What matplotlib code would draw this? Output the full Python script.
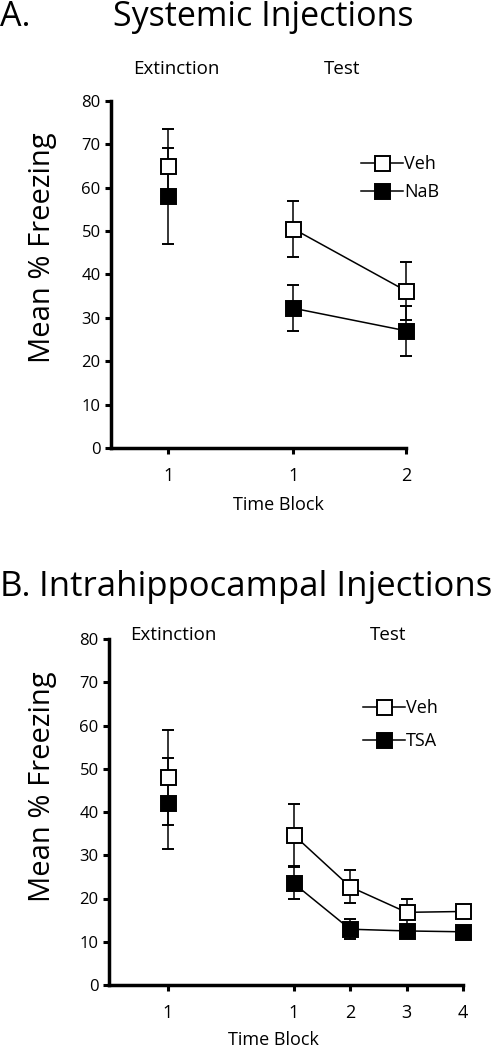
import matplotlib.pyplot as plt
from matplotlib.lines import Line2D

plt.rcParams['font.family'] = ['Open Sans', 'DejaVu Sans']

W, H = 501, 1050

# panel A: systemic injections
a_ext_veh, a_ext_veh_err = 65.0, 8.5
a_ext_nab, a_ext_nab_err = 58.0, 11.0
a_test_veh = [50.5, 36.2]
a_test_veh_err = [6.4, 6.7]
a_test_nab = [32.2, 27.0]
a_test_nab_err = [5.3, 5.8]
a_test_ticks = ['1', '2']

# panel B: intrahippocampal injections
b_ext_veh, b_ext_veh_err = 48.0, 11.0
b_ext_tsa, b_ext_tsa_err = 42.0, 10.5
b_test_veh = [34.7, 22.7, 16.8, 17.0]
b_test_veh_err = [7.1, 3.8, 3.0, 1.2]
b_test_tsa = [23.5, 12.9, 12.5, 12.3]
b_test_tsa_err = [3.7, 2.3, 1.0, 0.9]
b_test_ticks = ['1', '2', '3', '4']

yticks = [0, 10, 20, 30, 40, 50, 60, 70, 80]


def fx(x):
    return x / W


def fy(y):
    return 1 - y / H


def axes_px(fig, left, top, right, bottom):
    return fig.add_axes([fx(left), fy(bottom), (right - left) / W, (bottom - top) / H])


def series(ax, x_ext, ext, ext_err, x_test, test, test_err, filled, label):
    face = 'black' if filled else 'white'
    kw = dict(color='black', marker='s', markersize=10.8, markerfacecolor=face,
              markeredgecolor='black', markeredgewidth=1.4, ecolor='black',
              elinewidth=1.1, capsize=4.5, capthick=1.1, lw=1.1, clip_on=False)
    ax.errorbar([x_ext], [ext], yerr=[ext_err], linestyle='none', zorder=3 if filled else 4, **kw)
    ax.errorbar(x_test, test, yerr=test_err, zorder=3 if filled else 4, **kw)
    return Line2D([], [], color='black', lw=1.1, marker='s', markersize=10.8,
                  markerfacecolor=face, markeredgecolor='black', markeredgewidth=1.4,
                  label=label)


def style(ax, xlim, xticks, xlabels):
    ax.set_ylim(0, 80)
    ax.set_xlim(*xlim)
    ax.set_yticks(yticks)
    ax.set_xticks(xticks)
    ax.set_xticklabels(xlabels, fontsize=13)
    ax.tick_params(axis='y', labelsize=12, direction='out', length=4.5, width=2.2, pad=3)
    ax.tick_params(axis='x', direction='out', length=4.5, width=2.2, pad=9)
    for s in ['top', 'right']:
        ax.spines[s].set_visible(False)
    for s in ['left', 'bottom']:
        ax.spines[s].set_linewidth(2.5)


fig = plt.figure(figsize=(W / 100, H / 100), dpi=100)

# ---- A ----
axA = axes_px(fig, 111, 100.7, 406, 448)
ax_pos = [0.0, 1.107, 2.107]
hA1 = series(axA, ax_pos[0], a_ext_veh, a_ext_veh_err, ax_pos[1:], a_test_veh, a_test_veh_err, False, 'Veh')
hA2 = series(axA, ax_pos[0], a_ext_nab, a_ext_nab_err, ax_pos[1:], a_test_nab, a_test_nab_err, True, 'NaB')
style(axA, (-0.509, 2.107), ax_pos, ['1'] + a_test_ticks)
axA.legend(handles=[hA1, hA2], loc='upper left', bbox_to_anchor=(fx(352), fy(146)),
           bbox_transform=fig.transFigure, frameon=False, fontsize=13,
           handlelength=2.3, handletextpad=0.1, labelspacing=0.55, borderpad=0)

fig.text(fx(0), fy(17), 'A.', fontsize=24.5, va='center', ha='left')
fig.text(fx(113), fy(17), 'Systemic Injections', fontsize=24.5, va='center', ha='left')
fig.text(fx(176), fy(69), 'Extinction', fontsize=13.5, va='center', ha='center')
fig.text(fx(342), fy(69), 'Test', fontsize=13.5, va='center', ha='center')
fig.text(fx(43), fy(248), 'Mean % Freezing', fontsize=21, rotation=90, va='center', ha='center')
fig.text(fx(278), fy(505), 'Time Block', fontsize=13, va='center', ha='center')

# ---- B ----
axB = axes_px(fig, 109, 639, 463, 985)
bx_pos = [0.0, 2.23, 3.23, 4.23, 5.23]
hB1 = series(axB, bx_pos[0], b_ext_veh, b_ext_veh_err, bx_pos[1:], b_test_veh, b_test_veh_err, False, 'Veh')
hB2 = series(axB, bx_pos[0], b_ext_tsa, b_ext_tsa_err, bx_pos[1:], b_test_tsa, b_test_tsa_err, True, 'TSA')
style(axB, (-1.044, 5.23), bx_pos, ['1'] + b_test_ticks)
axB.legend(handles=[hB1, hB2], loc='upper left', bbox_to_anchor=(fx(354), fy(690)),
           bbox_transform=fig.transFigure, frameon=False, fontsize=13,
           handlelength=2.3, handletextpad=0.1, labelspacing=0.85, borderpad=0)

fig.text(fx(0), fy(587), 'B.', fontsize=25, va='center', ha='left')
fig.text(fx(39), fy(587), 'Intrahippocampal Injections', fontsize=25, va='center', ha='left')
fig.text(fx(173), fy(635), 'Extinction', fontsize=13.5, va='center', ha='center')
fig.text(fx(388), fy(635), 'Test', fontsize=13.5, va='center', ha='center')
fig.text(fx(43), fy(787), 'Mean % Freezing', fontsize=21, rotation=90, va='center', ha='center')
fig.text(fx(273), fy(1040), 'Time Block', fontsize=13, va='center', ha='center')

fig.savefig('out.png', dpi=100)
